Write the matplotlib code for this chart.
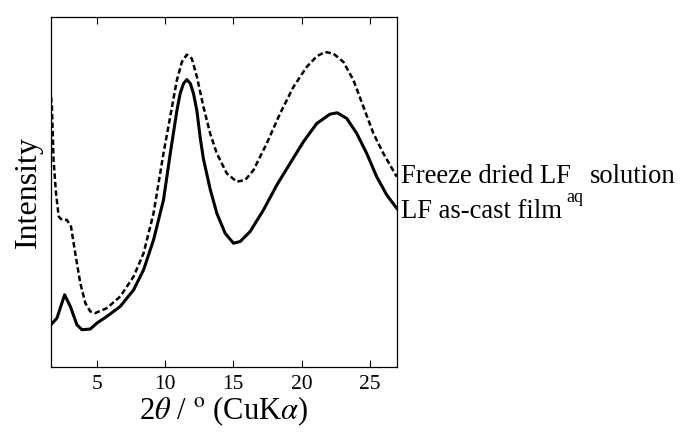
import matplotlib.pyplot as plt
import matplotlib.transforms as mtransforms

plt.rcParams['font.family'] = ['Liberation Serif', 'DejaVu Serif']
plt.rcParams['mathtext.fontset'] = 'stix'

# LF as-cast film (solid)
film_x = [1.63, 2.07, 2.63, 3.05, 3.53, 3.9, 4.51, 5.0, 5.73, 6.71, 7.69, 8.42,
          9.15, 9.88, 10.37, 10.86, 11.1, 11.35, 11.59, 11.85, 12.08, 12.33,
          12.57, 12.81, 13.3, 13.79, 14.4, 15.01, 15.5, 16.23, 17.21, 18.19,
          19.16, 20.14, 21.12, 22.09, 22.63, 23.32, 24.05, 24.78, 25.51, 26.25,
          26.98]
film_y = [127, 147, 217, 182, 127, 112, 114, 132, 152, 182, 232, 292,
          382, 502, 640, 770, 822, 852, 864, 852, 822, 770,
          690, 625, 535, 462, 402, 372, 377, 407, 472, 547,
          612, 677, 732, 760, 764, 747, 702, 642, 572, 517,
          477]

# Freeze dried LFaq solution (dashed)
fd_x = [1.58, 1.7, 1.82, 2.0, 2.2, 2.44, 2.8, 3.1, 3.41, 3.78, 4.15, 4.51,
        4.88, 5.73, 6.71, 7.69, 8.42, 9.15, 9.88, 10.37, 10.86, 11.23, 11.59,
        11.96, 12.33, 12.81, 13.3, 13.79, 14.52, 15.25, 15.87, 16.48, 17.45,
        18.43, 19.41, 20.38, 21.12, 21.73, 22.34, 23.07, 23.81, 24.54, 25.27,
        26.0, 26.98]
fd_y = [837, 782, 622, 522, 452, 442, 442, 422, 342, 252, 192, 167,
        162, 177, 212, 272, 342, 462, 642, 752, 862, 917, 939,
        927, 872, 782, 702, 642, 582, 557, 562, 592, 672,
        762, 842, 902, 934, 947, 942, 917, 862, 782, 702,
        642, 572]

xticks = [5, 10, 15, 20, 25]

fig = plt.figure(figsize=(6.86, 4.34), dpi=100)
ax = fig.add_axes([0.0743, 0.1544, 0.5044, 0.8064])

ax.plot(fd_x, fd_y, color='black', lw=1.8, dashes=(2.2, 1.2))
ax.plot(film_x, film_y, color='black', lw=2.2, solid_joinstyle='round')

ax.set_xlim(1.63, 27.0)
ax.set_ylim(0, 1052)
ax.set_xticks(xticks)
ax.set_yticks([])
ax.tick_params(axis='x', direction='in', top=True, length=5, width=0.8,
               labelsize=15.5, pad=6)
for s in ax.spines.values():
    s.set_linewidth(0.9)

ax.set_xlabel(r'2$\theta$ / $^{\mathrm{o}}$ (CuK$\alpha$)', fontsize=22, labelpad=0)
ax.set_ylabel('Intensity', fontsize=23, labelpad=6)

# right-hand labels, subscript placed by hand (it sits well below the line)
trans = ax.get_yaxis_transform()
t1 = ax.text(1.012, 553, 'Freeze dried LF', transform=trans, fontsize=19.2,
             va='baseline', ha='left')
ax.text(1.012, 448, 'LF as-cast film', transform=trans, fontsize=19.2,
        va='baseline', ha='left')

fig.canvas.draw()
bb = t1.get_window_extent()
base = trans.transform((1.012, 553))[1]
ident = mtransforms.IdentityTransform()
t2 = fig.text(bb.x1 - 5, base - 19, 'aq', transform=ident, fontsize=13,
              va='baseline', ha='left')
fig.canvas.draw()
bb2 = t2.get_window_extent()
fig.text(bb2.x1 + 7, base, 'solution', transform=ident, fontsize=19.2,
         va='baseline', ha='left')

fig.savefig('out.png', dpi=100)
